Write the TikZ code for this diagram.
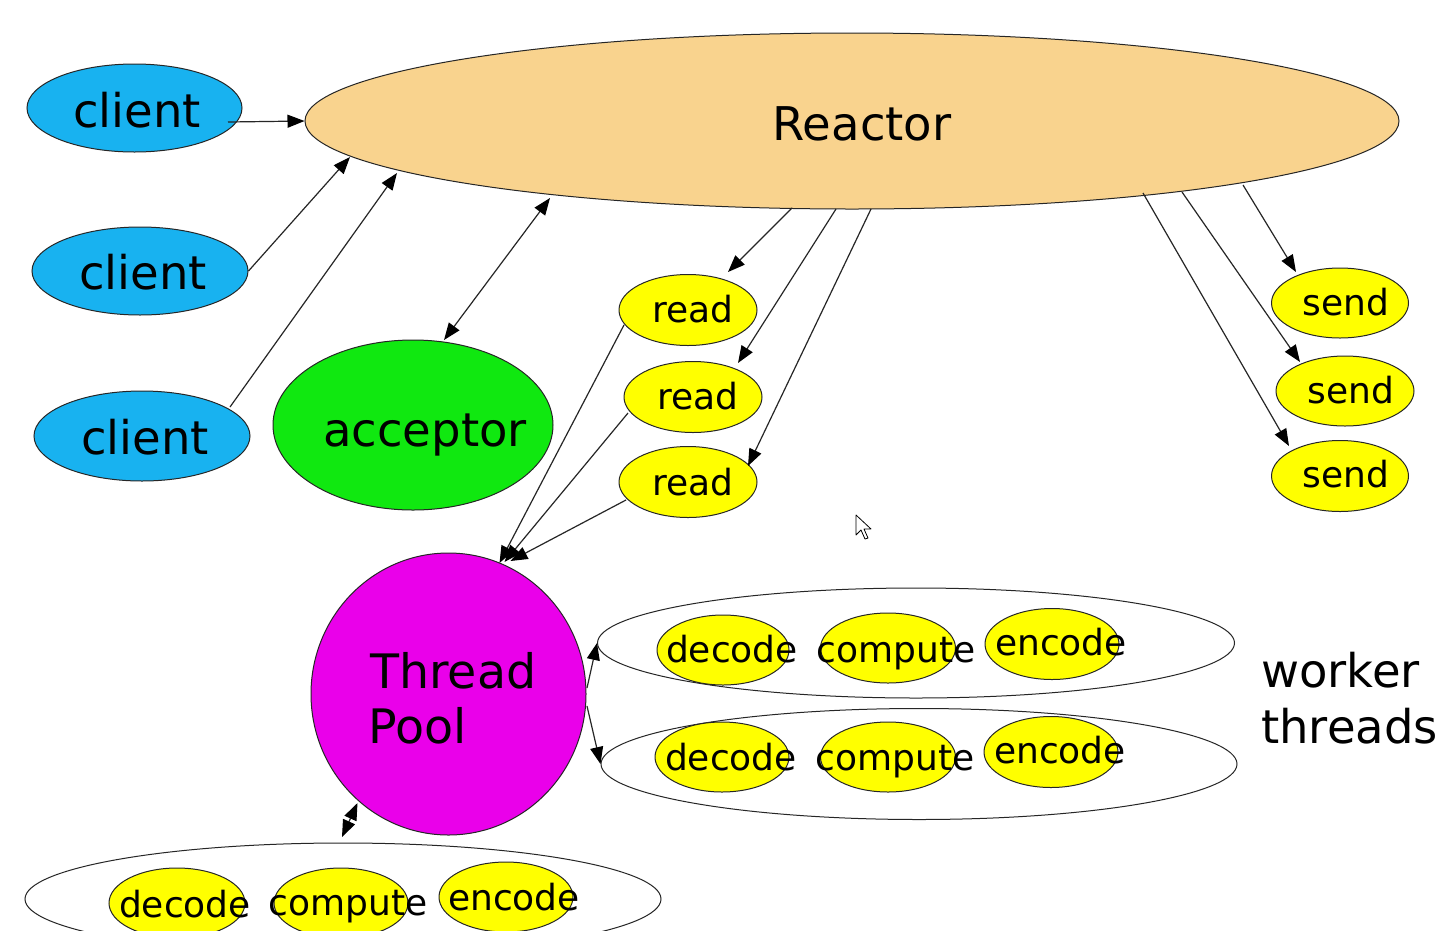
\documentclass[tikz,border=0pt]{standalone}
\usepackage{fontspec}
\setmainfont{DejaVu Sans}
\usetikzlibrary{shapes.geometric,arrows.meta,calc}
\definecolor{clientblue}{RGB}{24,178,240}
\definecolor{reactorfill}{RGB}{249,211,142}
\definecolor{acceptgreen}{RGB}{16,232,16}
\definecolor{workyellow}{RGB}{255,255,0}
\definecolor{poolmagenta}{RGB}{234,0,234}
\tikzset{
  ell/.style={ellipse, draw=black!85, line width=1pt, inner sep=0pt},
  bigtxt/.style={font=\fontsize{46.5}{50}\selectfont, anchor=base, inner sep=0pt},
  pooltxt/.style={font=\fontsize{47.5}{50}\selectfont, anchor=base west, inner sep=0pt},
  smalltxt/.style={font=\fontsize{36}{40}\selectfont, anchor=base, inner sep=0pt},
  arr/.style={-{Triangle[length=17pt,width=13pt,color=black]}, line width=1.2pt, draw=black!85},
  dblarr/.style={{Triangle[length=17pt,width=13pt,color=black]}-{Triangle[length=17pt,width=13pt,color=black]}, line width=1.2pt, draw=black!85},
}
\begin{document}
\begin{tikzpicture}[x=1pt,y=-1pt]
\clip (0,0) rectangle (1446,930);
\fill[white] (0,0) rectangle (1446,930);

% ellipses
\node[ell, fill=clientblue, minimum width=215pt, minimum height=88pt] (client1) at (134.5,108) {};
\node[ell, fill=clientblue, minimum width=216pt, minimum height=88pt] (client2) at (140,271) {};
\node[ell, fill=clientblue, minimum width=216pt, minimum height=90pt] (client3) at (142,436) {};
\node[ell, fill=reactorfill, minimum width=1094pt, minimum height=176pt] (reactor) at (852,121) {};
\node[ell, fill=acceptgreen, minimum width=280pt, minimum height=170pt] (acceptor) at (413,425) {};
\node[ell, fill=workyellow, minimum width=138pt, minimum height=71pt] (read1) at (688,310) {};
\node[ell, fill=workyellow, minimum width=138pt, minimum height=71pt] (read2) at (693,397) {};
\node[ell, fill=workyellow, minimum width=138pt, minimum height=71pt] (read3) at (688,482) {};
\node[ell, fill=workyellow, minimum width=137pt, minimum height=70pt] (send1) at (1340,303) {};
\node[ell, fill=workyellow, minimum width=138pt, minimum height=70pt] (send2) at (1345,391) {};
\node[ell, fill=workyellow, minimum width=137pt, minimum height=71pt] (send3) at (1340,476) {};
\node[ell, fill=poolmagenta, minimum width=275pt, minimum height=282pt] (pool) at (448.5,694) {};
\node[ell, minimum width=637pt, minimum height=110pt] (worker1) at (916,643) {};
\node[ell, minimum width=636pt, minimum height=111pt] (worker2) at (919,764) {};
\node[ell, minimum width=636pt, minimum height=112pt] (bottom) at (343,899) {};
\node[ell, fill=workyellow, minimum width=132pt, minimum height=70pt] (wadec) at (723,650) {};
\node[ell, fill=workyellow, minimum width=135pt, minimum height=70pt] (wacomp) at (888,648) {};
\node[ell, fill=workyellow, minimum width=134pt, minimum height=71pt] (waenc) at (1052,644) {};
\node[ell, fill=workyellow, minimum width=134pt, minimum height=70pt] (wbdec) at (722,757) {};
\node[ell, fill=workyellow, minimum width=135pt, minimum height=70pt] (wbcomp) at (888,757) {};
\node[ell, fill=workyellow, minimum width=134pt, minimum height=71pt] (wbenc) at (1051,752) {};
\node[ell, fill=workyellow, minimum width=136pt, minimum height=70pt] (bdec) at (177,903) {};
\node[ell, fill=workyellow, minimum width=134pt, minimum height=70pt] (bcomp) at (341,903) {};
\node[ell, fill=workyellow, minimum width=134pt, minimum height=70pt] (benc) at (506,897) {};

% connectors
\draw[arr] ($(client1.center)+(93.5,14)$) -- (reactor.west);
\draw[arr] (client2.east) -- ($(reactor.center)+(-502,36)$);
\draw[arr] ($(client3.center)+(88,-29)$) -- ($(reactor.center)+(-455,52)$);
\draw[dblarr] ($(acceptor.center)+(31,-85)$) -- ($(reactor.center)+(-302,77)$);
\draw[arr] ($(reactor.center)+(-60,87)$) -- ($(read1.center)+(40,-38)$);
\draw[arr] ($(reactor.center)+(-16,88)$) -- ($(read2.center)+(45,-34)$);
\draw[arr] ($(reactor.center)+(19,88)$) -- ($(read3.center)+(60,-16)$);
\draw[arr] ($(read1.center)+(-64,15)$) -- ($(pool.center)+(51,-131)$);
\draw[arr] ($(read2.center)+(-65,16)$) -- ($(pool.center)+(56,-132)$);
\draw[arr] ($(read3.center)+(-62,18)$) -- ($(pool.center)+(62,-133)$);
\draw[arr] ($(reactor.center)+(391,64)$) -- ($(send1.center)+(-44,-31)$);
\draw[arr] ($(reactor.center)+(330,71)$) -- ($(send2.center)+(-45,-29)$);
\draw[arr] ($(reactor.center)+(291,72)$) -- ($(send3.center)+(-51,-30)$);
\draw[arr] ($(pool.center)+(138.5,-6)$) -- (worker1.west);
\draw[arr] ($(pool.center)+(138.5,12)$) -- (worker2.west);
\draw[dblarr] ($(pool.center)+(-91,109)$) -- ($(bottom.center)+(-1,-62)$);

% texts
\node[bigtxt] (c1t) at (137,127) {client};
\node[bigtxt] (c2t) at (143,289) {client};
\node[bigtxt] (c3t) at (145,454) {client};
\node[bigtxt] (rt) at (862,140) {Reactor};
\node[bigtxt] (at) at (425,446) {acceptor};
\node[smalltxt] (r1t) at (693,322) {read};
\node[smalltxt] (r2t) at (698,409) {read};
\node[smalltxt] (r3t) at (693,495) {read};
\node[smalltxt] (s1t) at (1346,315) {send};
\node[smalltxt] (s2t) at (1351,403) {send};
\node[smalltxt] (s3t) at (1346,487) {send};
\node[pooltxt] (pt1) at (370,688) {Thread};
\node[pooltxt] (pt2) at (368,743) {Pool};
\node[smalltxt] (t1) at (732,662) {decode};
\node[smalltxt] (t2) at (896,662) {compute};
\node[smalltxt] (t3) at (1061,655) {encode};
\node[smalltxt] (t4) at (731,770) {decode};
\node[smalltxt] (t5) at (895,770) {compute};
\node[smalltxt] (t6) at (1060,763) {encode};
\node[smalltxt] (t7) at (185,917) {decode};
\node[smalltxt] (t8) at (348,915) {compute};
\node[smalltxt] (t9) at (514,910) {encode};
\node[bigtxt, anchor=base west] (wt1) at (1261,687) {worker};
\node[bigtxt, anchor=base west] (wt2) at (1261,743) {threads};

% mouse cursor
\draw[fill=white, line width=0.8pt, line join=round]
  (856,515) -- (856,535) -- (861,530) -- (865,539) -- (868,538) -- (864,529) -- (871,529) -- cycle;
\end{tikzpicture}
\end{document}
